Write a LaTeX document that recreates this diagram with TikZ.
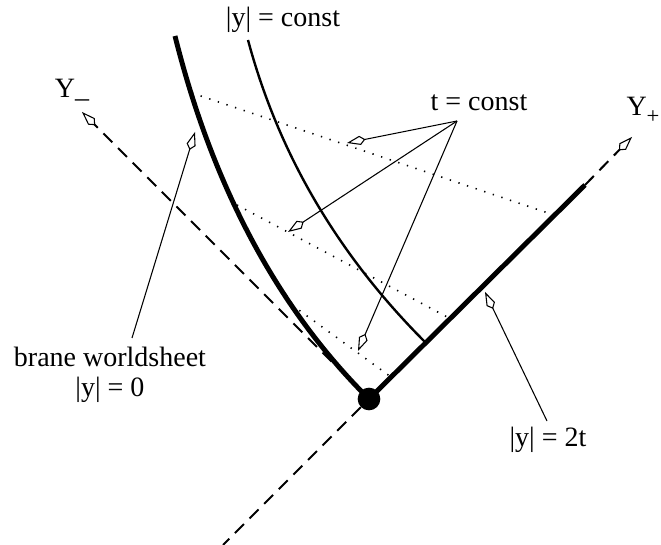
\documentclass[tikz,border=0pt]{standalone}
\usepackage{fontspec}
\setmainfont{Liberation Serif}
\usetikzlibrary{arrows,positioning}
\usetikzlibrary{arrows.meta}

\begin{document}
\begin{tikzpicture}[x=0.75pt,y=0.75pt,yscale=-1,xscale=1,
	font=\fontsize{21}{22.5}\selectfont,
	kitetip/.tip={Kite[open,length=14pt,width=7pt,inset=4pt,line width=0.8pt]},
	pointer/.style={line width=0.8pt,-kitetip},
	axisdash/.style={line width=1.5pt,dash pattern=on 9.5pt off 6pt},
	worldline/.style={line width=3.7pt},
	tline/.style={line width=1.2pt,dash pattern=on 1pt off 5.8pt}]
	\useasboundingbox (0,0) rectangle (661,545);
	
	%Shape: brane at t=0
	\node (orig) [circle,fill,inner sep=0pt,minimum size=17pt] at (369,399) {};
	\coordinate (ypEnd) at (585,185);
	\coordinate (ypTip) at (632,137);
	\coordinate (ypLow) at (223,545);
	\coordinate (ymTip) at (82,112);
	
	%Straight Lines [Y+ axis]
	\draw [worldline] (orig.center) -- (ypEnd) ;
	\draw [axisdash,-kitetip] (ypEnd) -- (ypTip) ;
	\draw [axisdash] (orig) -- (ypLow) ;
	%Straight Lines [Y- axis]
	\draw [axisdash,-kitetip] (orig) -- (ymTip) ;
	
	%Curve Lines [brane worldsheet]
	\draw [worldline] (orig.center) .. controls (277,307.7) and (212.3,185.3) .. (175,36) ;
	%Curve Lines [|y| = const]
	\coordinate (ycFoot) at (425,342);
	\draw [line width=1.8pt] (ycFoot) .. controls (337.5,254.4) and (278.5,153.7) .. (248,40) ;
	
	%Straight Lines [t = const]
	\draw [tline] (192,93) -- (551,214) ;
	\draw [tline] (237,205) -- (449,318) ;
	\draw [tline] (292,305) -- (391,377) ;
	
	% Text Node
	\node (yconst) at (283,20) {|y| = const};
	% Text Node
	\node (ym) at (72,90) {Y\_};
	% Text Node
	\node (yp) at (643,110) {Y\raisebox{-6pt}{\fontsize{17}{17}\selectfont +}};
	% Text Node
	\node (tconst) at (479,103) {t = const};
	\coordinate (tFoot) at (457,121);
	\draw [pointer] (tFoot) -- (347,143) coordinate (tTipA) ;
	\draw [pointer] (tFoot) -- (288,232) coordinate (tTipB) ;
	\draw [pointer] (tFoot) -- (358,351) coordinate (tTipC) ;
	% Text Node
	\node (bw) [align=center] at (110,375) {brane worldsheet\\|y| = 0};
	\coordinate (bwFoot) at (132,338);
	\draw [pointer] (bwFoot) -- (195,132) coordinate (bwTip) ;
	% Text Node
	\node (twot) at (548,440) {|y| = 2t};
	\coordinate (twotFoot) at (547,421);
	\draw [pointer] (twotFoot) -- (485,292) coordinate (twotTip) ;
	
\end{tikzpicture}
\end{document}
